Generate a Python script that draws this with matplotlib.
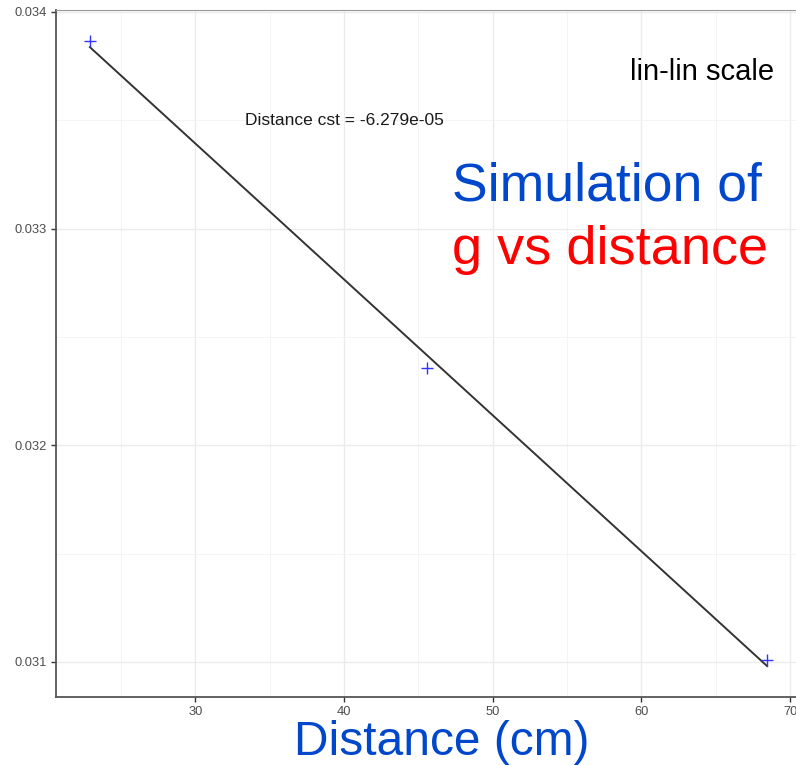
import numpy as np
import matplotlib
matplotlib.use('Agg')
import matplotlib.pyplot as plt
from matplotlib.ticker import MultipleLocator

plt.rcParams['font.family'] = ['Liberation Sans', 'DejaVu Sans']

# data
distance = [22.9, 45.6, 68.45]
g_value = [0.033866, 0.032357, 0.031009]
x_ticks = [30, 40, 50, 60, 70]
y_ticks = [0.031, 0.032, 0.033, 0.034]
slope_label = "Distance cst = -6.279e-05"

fig = plt.figure(figsize=(7.96, 7.65), dpi=100)
ax = fig.add_axes([0.0704, 0.0889, 0.9359, 0.898])

# linear fit through the points
coef = np.polyfit(distance, g_value, 1)
xs = np.array([min(distance), max(distance)])
ax.plot(xs, np.polyval(coef, xs), color='#333333', lw=1.4, zorder=3)
ax.plot(distance, g_value, '+', color='#3333ff', ms=9, mew=1.0, zorder=4)

ax.set_xlim(20.62, 70.73)
ax.set_ylim(0.030838, 0.034009)
ax.set_xticks(x_ticks)
ax.set_yticks(y_ticks)
ax.set_yticklabels([f"{v:.3f}" for v in y_ticks])
ax.xaxis.set_minor_locator(MultipleLocator(5))
ax.yaxis.set_minor_locator(MultipleLocator(0.0005))
ax.grid(which='major', color='#ebebeb', lw=1.0)
ax.grid(which='minor', color='#f3f3f3', lw=0.6)
ax.set_axisbelow(True)
ax.tick_params(which='major', length=3.5, width=1, color='#333333',
               labelsize=9.3, labelcolor='#4d4d4d', pad=3)
ax.tick_params(which='minor', length=0)
for side in ['left', 'bottom']:
    ax.spines[side].set_color('#555555')
    ax.spines[side].set_linewidth(1.3)
ax.spines['top'].set_color('#999999')
ax.spines['top'].set_linewidth(0.8)
ax.spines['right'].set_visible(False)

ax.text(40, 0.0335, slope_label, ha='center', va='center', fontsize=12.5, color='#1a1a1a')

fig.text(0.9724, 0.8954, "lin-lin scale", ha='right', va='baseline', fontsize=21, color='black')
fig.text(0.568, 0.7373, "Simulation of", ha='left', va='baseline', fontsize=38.5, color='#0047cc')
fig.text(0.568, 0.6554, "g vs distance", ha='left', va='baseline', fontsize=39, color='#ff0000')
fig.text(0.3693, 0.0135, "Distance (cm)", ha='left', va='baseline', fontsize=34.5, color='#0047cc')

fig.savefig('out.png', dpi=100)
